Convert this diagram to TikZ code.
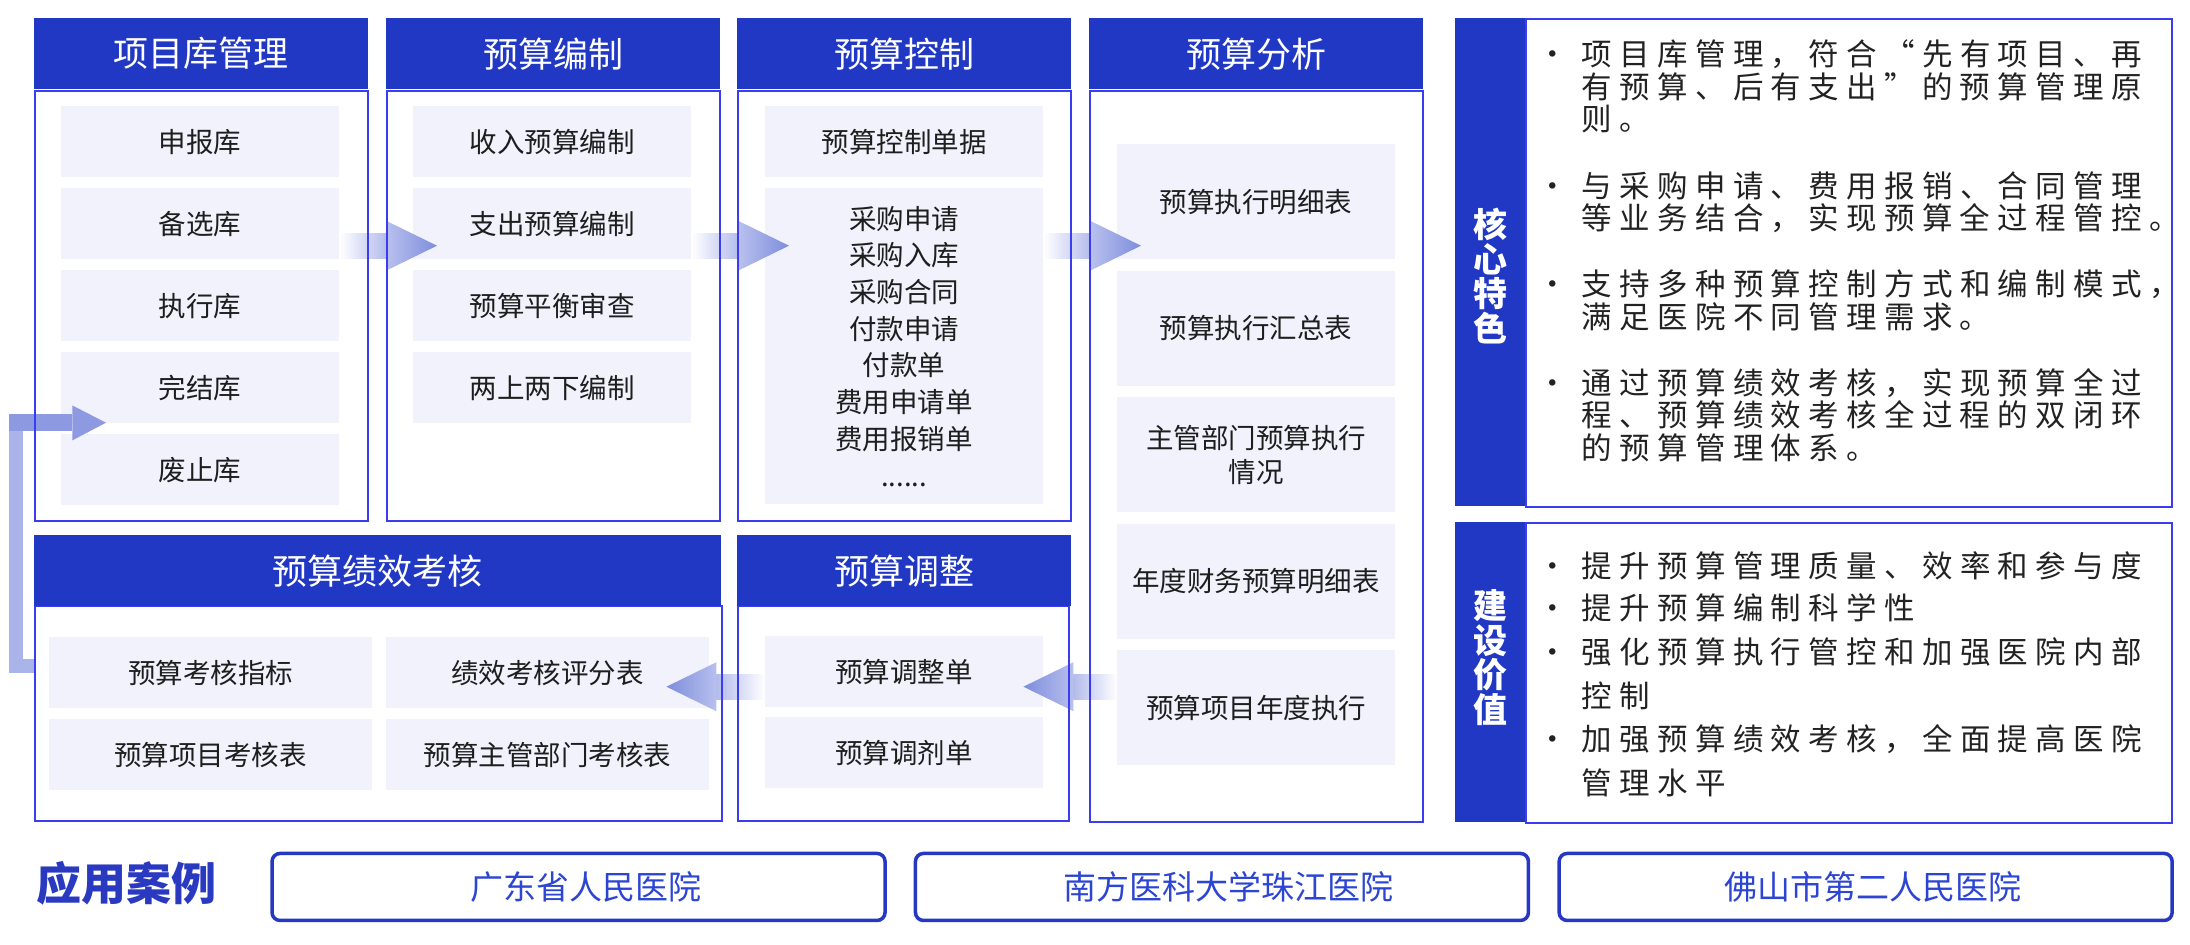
\documentclass[tikz,border=0pt]{standalone}
\usepackage{fontspec}
\newfontfamily\cjk{Noto Sans CJK SC}
\newfontfamily\cjksp[LetterSpace=24]{Noto Sans CJK SC}
\usetikzlibrary{calc}
\definecolor{hdrblue}{HTML}{2038C4}
\definecolor{framec}{HTML}{3A3CF2}
\definecolor{itemfill}{HTML}{F1F2FC}
\definecolor{itemtext}{HTML}{1E1E1E}
\definecolor{feattext}{HTML}{222222}
\definecolor{shaftc}{HTML}{B3BBEC}
\definecolor{headbase}{HTML}{B8C0EE}
\definecolor{headtip}{HTML}{7D8DDB}
\definecolor{retlight}{HTML}{AAB4E8}
\definecolor{retdark}{HTML}{8D9AE1}
\definecolor{caseline}{HTML}{2637C2}
\definecolor{casetext}{HTML}{2C45D3}
\definecolor{casehead}{HTML}{2A3AC0}
% fat flow arrow: #1 r/l, #2 signed head length, #3 tail, #4 tip
\newcommand\flowarrow[4]{%
\coordinate (fab) at ($(#4)+(#2,0)$);
\shade[shaft #1] ($(#3 |- #4)+(0,-12.5)$) rectangle ($(fab)+(0,12.5)$);
\shade[head #1] ($(fab)+(0,-24.5)$) -- ($(fab)+(0,24.5)$) -- (#4) -- cycle;}
\newcommand\bul{\llap{\makebox[58.4pt]{\cjk •}}}
\begin{document}
\begin{tikzpicture}[x=1pt,y=-1pt,
hdr/.style={fill=hdrblue,text=white,font=\cjk\fontsize{35}{40}\selectfont,minimum height=71pt,inner sep=0pt,anchor=north west},
colframe/.style={draw=framec,line width=2pt,inner sep=0pt,anchor=north west},
cell/.style={fill=itemfill,text=itemtext,font=\cjk\fontsize{27.5}{34}\selectfont,minimum width=278pt,minimum height=71pt,inner sep=0pt,anchor=north west,align=center},
shaft r/.style={left color=white,right color=shaftc},
shaft l/.style={left color=shaftc,right color=white},
head r/.style={left color=headbase,right color=headtip},
head l/.style={left color=headtip,right color=headbase},
sidetag/.style={fill=hdrblue,minimum width=70pt,inner sep=0pt,anchor=north west},
tagtext/.style={text=white,font=\cjk\bfseries\fontsize{34}{34.6}\selectfont,align=center,inner sep=0pt},
featbox/.style={draw=framec,line width=2pt,minimum width=646pt,inner sep=0pt,anchor=north west},
feat/.style={text=feattext,font=\cjksp\fontsize{30.5}{32.5}\selectfont,align=left,inner sep=0pt,anchor=north west},
casebox/.style={draw=caseline,line width=3.5pt,rounded corners=8pt,minimum width=613pt,minimum height=67pt,text=casetext,font=\cjk\fontsize{33}{36}\selectfont,inner sep=0pt,anchor=north west}]
\useasboundingbox (0,0) rectangle (2190,945);
% cells of the top row
\foreach \t [count=\i] in {申报库,备选库,执行库,完结库,废止库}
\node[cell] (c1i\i) at (61,{106+82*(\i-1)}) {\t};
\foreach \t [count=\i] in {收入预算编制,支出预算编制,预算平衡审查,两上两下编制}
\node[cell] (c2i\i) at (413,{106+82*(\i-1)}) {\t};
\node[cell] (c3i1) at (765,106) {预算控制单据};
\node[cell,minimum height=316pt,font=\cjk\fontsize{27.5}{36.7}\selectfont] (c3i2) at (765,188)
{采购申请\\采购入库\\采购合同\\付款申请\\付款单\\费用申请单\\费用报销单\\......};
\foreach \t [count=\i] in {预算执行明细表,预算执行汇总表,{主管部门预算执行\\情况},年度财务预算明细表,预算项目年度执行}
\node[cell,minimum height=115pt] (c4i\i) at (1117,{144+126.5*(\i-1)}) {\t};
% cells of the bottom row
\node[cell,minimum width=323pt] (c5i1) at (49,637) {预算考核指标};
\node[cell,minimum width=323pt] (c5i2) at (386,637) {绩效考核评分表};
\node[cell,minimum width=323pt] (c5i3) at (49,719) {预算项目考核表};
\node[cell,minimum width=323pt] (c5i4) at (386,719) {预算主管部门考核表};
\node[cell] (c6i1) at (765,636) {预算调整单};
\node[cell] (c6i2) at (765,717) {预算调剂单};
% flow arrows
\coordinate (t1) at ($(c2i2.west)+(24,22)$);
\flowarrow{r}{-50}{c1i2.east}{t1}
\coordinate (t2) at ($(c3i2.west |- t1)+(24,0)$);
\flowarrow{r}{-50}{c2i2.east}{t2}
\coordinate (t3) at ($(c4i1.west |- t1)+(24,0)$);
\flowarrow{r}{-50}{c3i2.east}{t3}
\coordinate (t4) at ($(c6i1.east)+(-20,15)$);
\flowarrow{l}{50}{c4i5.west}{t4}
\coordinate (t5) at ($(c5i2.east |- t4)+(-43,0)$);
\flowarrow{l}{50}{c6i1.west}{t5}
% return arrow back to the project pool
\coordinate (r0) at ($(c5i1.west)+(-15,-7)$);
\coordinate (r1) at ($(c1i4.south west)+(45,-0.7)$);
\draw[retlight,line width=13.7pt] (r0) -| ($(r1)+(-90.2,5.7)$);
\fill[retdark] ($(r1)+(-97,-9)$) rectangle ($(r1)+(-33.7,8.4)$);
\fill[retdark] ($(r1)+(-33.7,-17.3)$) -- ($(r1)+(-33.7,17.7)$) -- (r1) -- cycle;
% frames and headers
\foreach \x/\n in {34/1,386/2,737/3}
\node[colframe,minimum width=333pt,minimum height=430pt] (b\n) at (\x,90) {};
\node[colframe,minimum width=333pt,minimum height=731pt] (b4) at (1089,90) {};
\node[colframe,minimum width=687pt,minimum height=215pt] (b5) at (34,605) {};
\node[colframe,minimum width=331pt,minimum height=215pt] (b6) at (737,605) {};
\foreach \x/\n/\t in {34/1/项目库管理,386/2/预算编制,737/3/预算控制,1089/4/预算分析}
\node[hdr,minimum width=334pt] (h\n) at (\x,18) {\t};
\node[hdr,minimum width=687pt] (h5) at (34,535) {预算绩效考核};
\node[hdr,minimum width=334pt] (h6) at (737,535) {预算调整};
% right panel
\node[sidetag,minimum height=487.5pt] (s1) at (1455,18) {};
\node[tagtext] (s1t) at ($(s1.center)+(0,14)$) {核\\心\\特\\色};
\node[featbox,minimum height=487.5pt] (p1) at (1525,18) {};
\node[feat] (f1) at (1581.6,39.8) {\bul 项目库管理，符合“先有项目、再\\有预算、后有支出”的预算管理原\\则。};
\node[feat] (f2) at (1581.6,171.5) {\bul 与采购申请、费用报销、合同管理\\等业务结合，实现预算全过程管控。};
\node[feat] (f3) at (1581.6,269.8) {\bul 支持多种预算控制方式和编制模式，\\满足医院不同管理需求。};
\node[feat] (f4) at (1581.6,368.1) {\bul 通过预算绩效考核，实现预算全过\\程、预算绩效考核全过程的双闭环\\的预算管理体系。};
\node[sidetag,minimum height=300pt] (s2) at (1455,522) {};
\node[tagtext] (s2t) at ($(s2.center)+(0,-14.7)$) {建\\设\\价\\值};
\node[featbox,minimum height=300pt] (p2) at (1525,522) {};
\node[feat] (g1) at (1581.6,551.5) {\bul 提升预算管理质量、效率和参与度};
\node[feat] (g2) at (1581.6,593.1) {\bul 提升预算编制科学性};
\node[feat,font=\cjksp\fontsize{30.5}{44}\selectfont] (g3) at (1581.6,637.5) {\bul 强化预算执行管控和加强医院内部\\控制};
\node[feat,font=\cjksp\fontsize{30.5}{44}\selectfont] (g4) at (1581.6,724.1) {\bul 加强预算绩效考核，全面提高医院\\管理水平};
% application cases
\node[text=casehead,font=\cjk\bfseries\fontsize{45}{50}\selectfont] (cases) at (126.7,883) {应用案例};
\foreach \x/\n/\t in {270.3/1/广东省人民医院,913.7/2/南方医科大学珠江医院,1557.4/3/佛山市第二人民医院}
\node[casebox] (k\n) at (\x,851.7) {\hspace*{14pt}\t};
\end{tikzpicture}
\end{document}
